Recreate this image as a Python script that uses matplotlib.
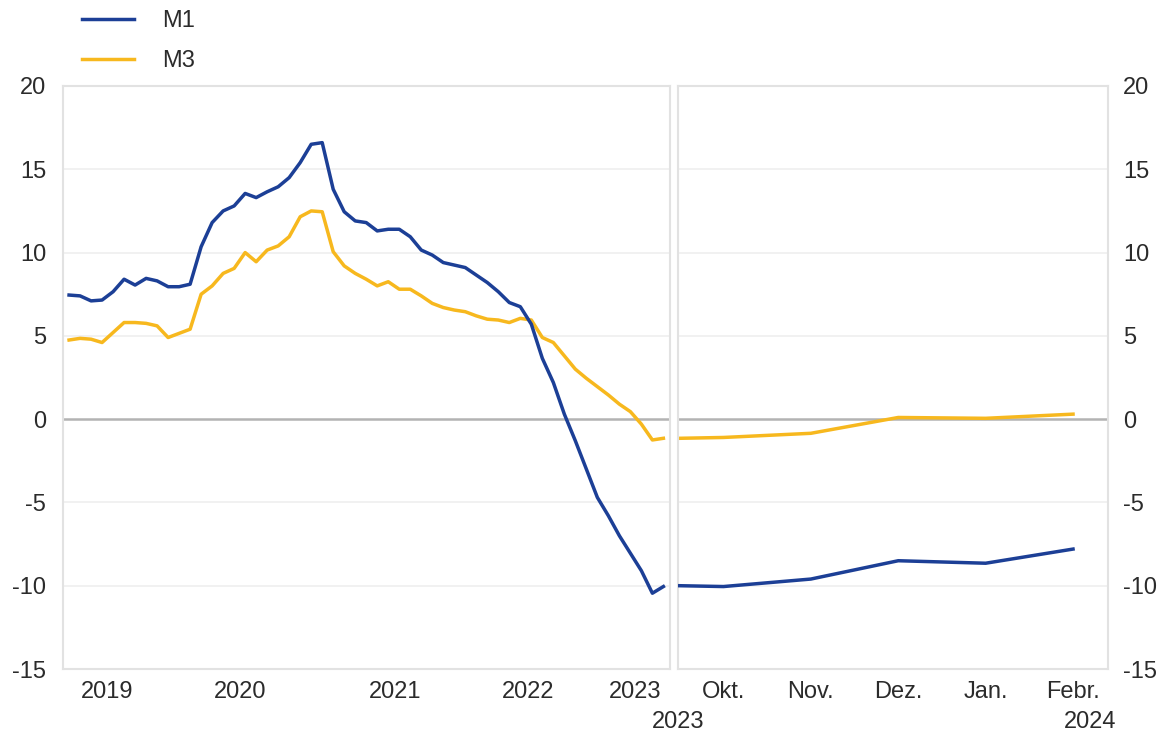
import numpy as np
import matplotlib
matplotlib.use("Agg")
import matplotlib.pyplot as plt

plt.rcParams['font.family'] = ['Liberation Sans', 'DejaVu Sans']
plt.rcParams['axes.unicode_minus'] = False

# left panel: monthly, index 0 = Jan 2019, data Mar 2019 .. Sep 2023
month_idx = np.arange(2, 57)
m1_left = [7.45, 7.4, 7.1, 7.15, 7.65, 8.4, 8.05, 8.45, 8.3, 7.95, 7.95, 8.1,
           10.35, 11.8, 12.5, 12.8, 13.55, 13.3, 13.65, 13.95, 14.5, 15.4, 16.5, 16.6,
           13.8, 12.45, 11.9, 11.8, 11.3, 11.4, 11.4, 10.95, 10.15, 9.85, 9.4, 9.25,
           9.1, 8.65, 8.2, 7.65, 7.0, 6.75, 5.7, 3.65, 2.2, 0.3, -1.3, -3.0,
           -4.7, -5.8, -7.0, -8.05, -9.1, -10.45, -10.05]
m3_left = [4.75, 4.85, 4.8, 4.6, 5.2, 5.8, 5.8, 5.75, 5.6, 4.9, 5.15, 5.4,
           7.5, 8.0, 8.75, 9.05, 10.0, 9.45, 10.15, 10.4, 10.95, 12.15, 12.5, 12.45,
           10.05, 9.2, 8.75, 8.4, 8.0, 8.25, 7.8, 7.8, 7.4, 6.95, 6.7, 6.55,
           6.45, 6.2, 6.0, 5.95, 5.8, 6.05, 5.95, 4.9, 4.6, 3.8, 3.0, 2.45,
           1.95, 1.45, 0.9, 0.45, -0.3, -1.25, -1.15]
year_labels = ['2019', '2020', '2021', '2022', '2023']
year_pos = [5.5, 17.5, 31.6, 43.7, 53.4]

# right panel: Sep 2023 .. Feb 2024
right_months = ['Sep.', 'Okt.', 'Nov.', 'Dez.', 'Jan.', 'Febr.']
m1_right = [-10.0, -10.05, -9.6, -8.5, -8.65, -7.8]
m3_right = [-1.15, -1.1, -0.85, 0.1, 0.05, 0.3]

blue = '#1c3f96'
yellow = '#f7b81e'
txt = '#2b2b2b'
fs = 17

fig = plt.figure(figsize=(11.73, 7.35), dpi=100)
ax1 = fig.add_axes([63/1173, 1-669/735, 607/1173, 583/735])
ax2 = fig.add_axes([678/1173, 1-669/735, 430/1173, 583/735])

rx = np.arange(len(right_months)) - 1.0
rx[0] = -0.5

for ax in (ax1, ax2):
    ax.set_ylim(-15, 20)
    ax.set_yticks(np.arange(-15, 21, 5))
    for v in np.arange(-15, 21, 5):
        if v != 0:
            ax.axhline(v, color='#efefef', lw=1.2, zorder=0)
    ax.axhline(0, color='#b3b3b3', lw=1.8, zorder=1)
    for s in ax.spines.values():
        s.set_color('#e2e2e2')
        s.set_linewidth(1.5)
    ax.tick_params(length=0, labelsize=fs, colors=txt)

l1, = ax1.plot(month_idx, m1_left, color=blue, lw=2.5, label='M1', zorder=3)
l3, = ax1.plot(month_idx, m3_left, color=yellow, lw=2.5, label='M3', zorder=2)
ax1.set_xlim(1.45, 56.6)
ax1.set_xticks(year_pos)
ax1.set_xticklabels(year_labels)
ax1.tick_params(axis='y', pad=12)
ax1.tick_params(axis='x', pad=9)

ax2.plot(rx, m1_right, color=blue, lw=2.5, zorder=3)
ax2.plot(rx, m3_right, color=yellow, lw=2.5, zorder=2)
ax2.set_xlim(-0.52, 4.4)
ax2.set_xticks(rx[1:])
ax2.set_xticklabels(right_months[1:])
ax2.yaxis.tick_right()
ax2.tick_params(axis='y', pad=11)
ax2.tick_params(axis='x', pad=9)

fig.text(678/1173, 1-722/735, '2023', fontsize=fs, color=txt, ha='center', va='center')
fig.text(1090/1173, 1-722/735, '2024', fontsize=fs, color=txt, ha='center', va='center')

fig.legend(handles=[l1, l3], loc='upper left', bbox_to_anchor=(68/1173, 1.005),
           frameon=False, fontsize=fs, handlelength=2.2, handletextpad=1.2,
           labelspacing=0.75, labelcolor=txt, borderaxespad=0.2)

fig.savefig('out.png', dpi=100, facecolor='white')
